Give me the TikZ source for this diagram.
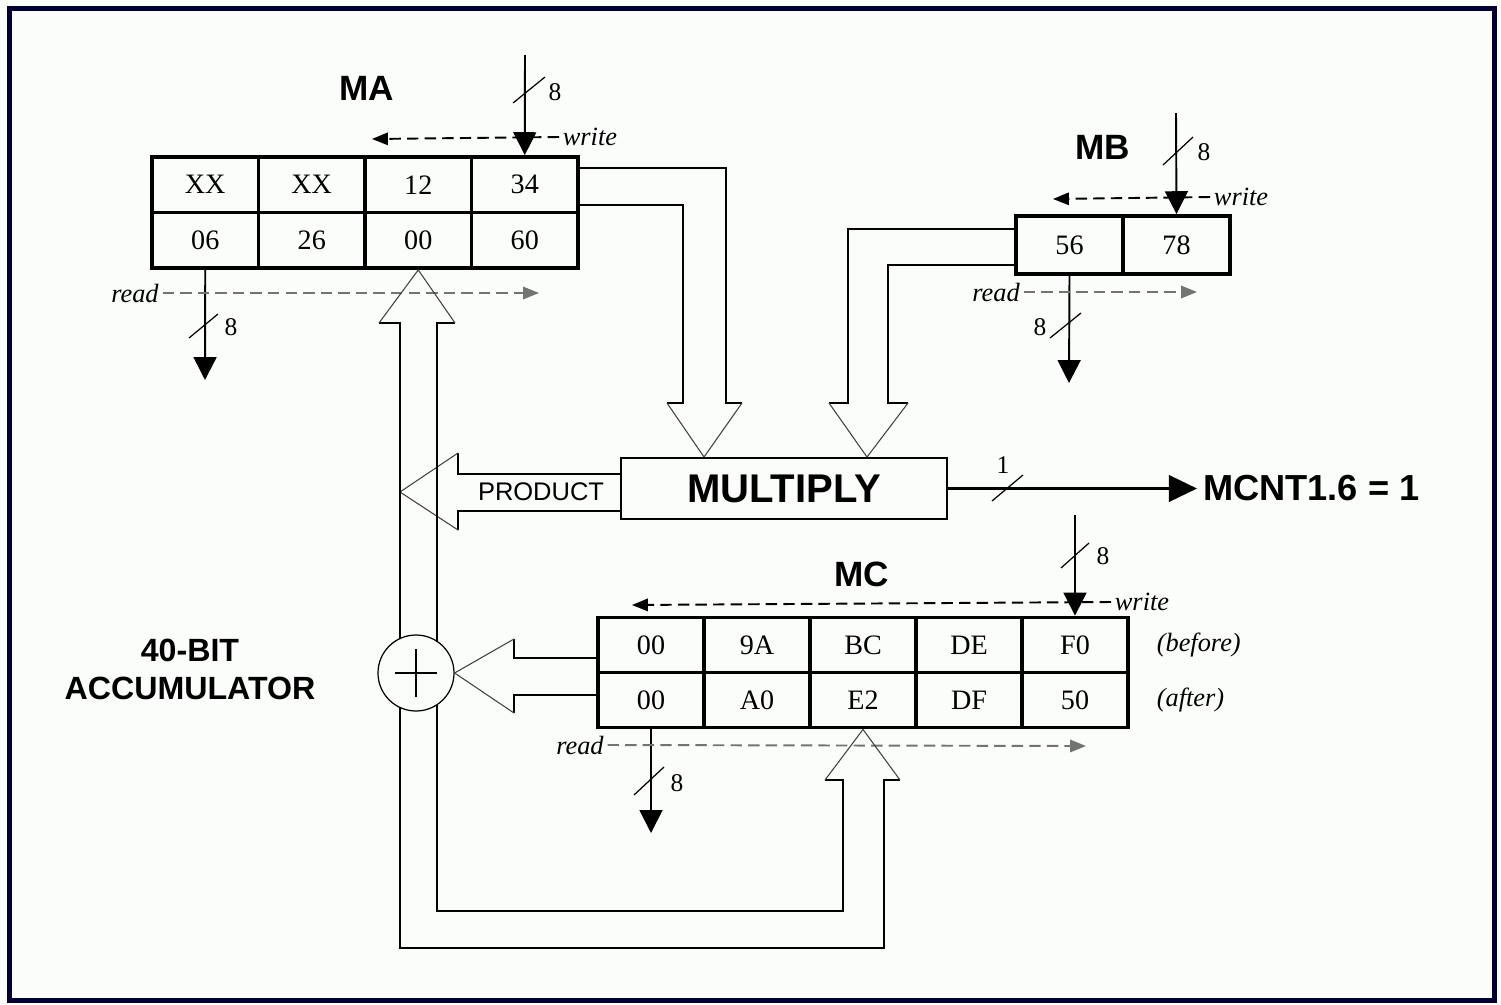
\documentclass[tikz,border=0pt]{standalone}
\usepackage{fontspec}
\setmainfont{Liberation Serif}
\setsansfont{Liberation Sans}
\usetikzlibrary{positioning, arrows.meta, calc}
\definecolor{edgenavy}{HTML}{000033}
\definecolor{paper}{HTML}{FBFDFB}

\begin{document}
\begin{tikzpicture}[x=0.2mm,y=-0.2mm,
  cell/.style={draw,line width=2.2pt,minimum width=21.3mm,minimum height=11.1mm,
               inner sep=0pt,font=\fontsize{16}{16}\selectfont},
  reglabel/.style={font=\sffamily\bfseries\fontsize{20}{20}\selectfont},
  io/.style={font=\itshape\fontsize{15}{15}\selectfont,inner sep=2pt},
  num/.style={font=\fontsize{14.5}{14.5}\selectfont,inner sep=0pt},
  sig/.style={line width=1.1pt,-{Triangle[length=13pt,width=13pt]}},
  wrline/.style={line width=1.1pt,dash pattern=on 6.5pt off 3.5pt,
                 -{Triangle[length=9pt,width=7pt]}},
  rdline/.style={wrline,draw=black!55},
  tick/.style={line width=0.7pt},
  bus/.style={line width=1.1pt},
  head/.style={line width=0.6pt,draw=black!75}]
  \useasboundingbox (0,0) rectangle (1501,1004);
  \fill[paper] (0,0) rectangle (1501,1004);
  \draw[edgenavy,line width=2.9pt] (9.5,8.5) rectangle (1494.5,1000.5);

  % register MA
  \foreach \v [count=\i] in {XX,XX,12,34}
    \node[cell] (mat\i) at ({98.75+106.5*\i},184.75) {\v};
  \foreach \v [count=\i] in {06,26,00,60}
    \node[cell] (mab\i) at ({98.75+106.5*\i},240.25) {\v};
  \node[reglabel] (lMA) at (367,88) {MA};
  \node[io] (maW) at (590,137) {write};
  \node[io] (maR) at (135,293) {read};
  \coordinate (maIn) at (525,55);
  \coordinate (maOut) at (205,380);
  \coordinate (maWend) at (372,139);
  \coordinate (maRend) at (539,293);

  % register MB
  \node[cell,minimum width=21.4mm,minimum height=11.6mm] (mb1) at (1069.5,245) {56};
  \node[cell,minimum width=21.4mm,minimum height=11.6mm] (mb2) at (1176.5,245) {78};
  \node[reglabel] (lMB) at (1103,147) {MB};
  \node[io] (mbW) at (1241,197) {write};
  \node[io] (mbR) at (996,292) {read};
  \coordinate (mbIn) at (1176,113);
  \coordinate (mbOut) at (1069,383);
  \coordinate (mbWend) at (1053,199);
  \coordinate (mbRend) at (1197,292);

  % register MC
  \foreach \v [count=\i] in {00,9A,BC,DE,F0}
    \node[cell,minimum width=21.2mm,minimum height=11mm] (mct\i) at ({545+106*\i},645) {\v};
  \foreach \v [count=\i] in {00,A0,E2,DF,50}
    \node[cell,minimum width=21.2mm,minimum height=11mm] (mcb\i) at ({545+106*\i},700) {\v};
  \node[reglabel] (lMC) at (862,574) {MC};
  \node[io,right=4.6mm of mct5] (before) {(before)};
  \node[io,right=4.6mm of mcb5] (after) {(after)};
  \node[io] (mcW) at (1142,602) {write};
  \node[io] (mcR) at (580,745) {read};
  \coordinate (mcIn) at (1075,515);
  \coordinate (mcOut) at (651,833);
  \coordinate (mcWend) at (632,605);
  \coordinate (mcRend) at (1086,746);

  % multiplier, adder, output
  \node[draw,line width=1.1pt,minimum width=65.2mm,minimum height=12.2mm,
        font=\sffamily\bfseries\fontsize{22.8}{22.8}\selectfont] (mul) at (784,488.5) {MULTIPLY};
  \node[font=\sffamily\fontsize{14.5}{14.5}\selectfont] (prod) at (541,492) {PRODUCT};
  \node[reglabel,font=\sffamily\bfseries\fontsize{20.6}{20.6}\selectfont,anchor=west]
    (mcnt) at (1197,488.5) {MCNT1.6 = 1};
  \node[circle,draw,line width=0.7pt,minimum size=15.2mm,inner sep=0pt] (add) at (416,673) {};
  \node[align=center,font=\sffamily\bfseries\fontsize{18.3}{21.6}\selectfont]
    (acc) at (190,669) {40-BIT\\ACCUMULATOR};

  % plus sign
  \draw[line width=1pt] ($(add.center)+(-21,0)$) -- ($(add.center)+(21,0)$)
                        ($(add.center)+(0,-24)$) -- ($(add.center)+(0,24)$);

  % write / read ports
  \draw[sig] (maIn) -- (mat4.north);
  \draw[sig] (mab1.south) -- (maOut);
  \draw[sig] (mbIn) -- (mb2.north);
  \draw[sig] (mb1.south) -- (mbOut);
  \draw[sig] (mcIn) -- (mct5.north);
  \draw[sig] (mcb1.south) -- (mcOut);
  \draw[wrline] (maW.west) -- (maWend);
  \draw[rdline] (maR.east) -- (maRend);
  \draw[wrline] (mbW.west) -- (mbWend);
  \draw[rdline] (mbR.east) -- (mbRend);
  \draw[wrline] (mcW.west) -- (mcWend);
  \draw[rdline] (mcR.east) -- (mcRend);
  \draw[line width=1.7pt,-{Triangle[length=16pt,width=15pt]}] (mul.east) -- (mcnt.west);

  % bus width marks
  \draw[tick] (513,103) -- (545,77);   \node[num] (w1) at (555,92) {8};
  \draw[tick] (189,338) -- (218,314);  \node[num] (w2) at (231,327) {8};
  \draw[tick] (1163,165) -- (1193,137); \node[num] (w3) at (1204,152) {8};
  \draw[tick] (1050,338) -- (1081,313); \node[num] (w4) at (1040,327) {8};
  \draw[tick] (1061,568) -- (1089,543); \node[num] (w5) at (1103,556) {8};
  \draw[tick] (634,795) -- (664,767);  \node[num] (w6) at (677,783) {8};
  \draw[tick] (992,501) -- (1023,475); \node[num] (w7) at (1003,465) {1};

  % MA and MB into the multiplier
  \draw[bus] ($(mat4.east)+(0,-17)$) -| (726,403) -- (742,403);
  \draw[bus] ($(mat4.east)+(0,20)$) -| (683,403) -- (667,403);
  \draw[head] (667,403) -- ($(mul.north west)+(84,0)$) -- (742,403);
  \draw[bus] ($(mb1.west)+(0,-16)$) -| (848,403) -- (829,403);
  \draw[bus] ($(mb1.west)+(0,20)$) -| (888,403) -- (908,403);
  \draw[head] (829,403) -- ($(mul.north west)+(247,0)$) -- (908,403);

  % product into the accumulator
  \draw[bus] ($(mul.west)+(0,-14.5)$) -- (458,474) -- (458,453);
  \draw[bus] ($(mul.west)+(0,22.5)$) -- (458,511) -- (458,530);
  \draw[head] (458,453) -- (400,492) -- (458,530);

  % MC into the adder
  \draw[bus] ($(mct1.west)+(0,13)$) -- (514,658) -- (514,639);
  \draw[bus] ($(mcb1.west)+(0,-5)$) -- (514,695) -- (514,713);
  \draw[head] (514,639) -- (add.east) -- (514,713);

  % adder back to MA
  \draw[bus] (400,639) -- (400,323) -- (379,323);
  \draw[bus] (437,642) -- (437,323) -- (455,323);
  \draw[head] (379,323) -- (mab3.south) -- (455,323);

  % adder back to MC
  \draw[bus] (400,707) -- (400,948) -| (884,780) -- (900,780);
  \draw[bus] (437,705) -- (437,911) -| (843,780) -- (825,780);
  \draw[head] (825,780) -- (mcb3.south) -- (900,780);
\end{tikzpicture}
\end{document}
